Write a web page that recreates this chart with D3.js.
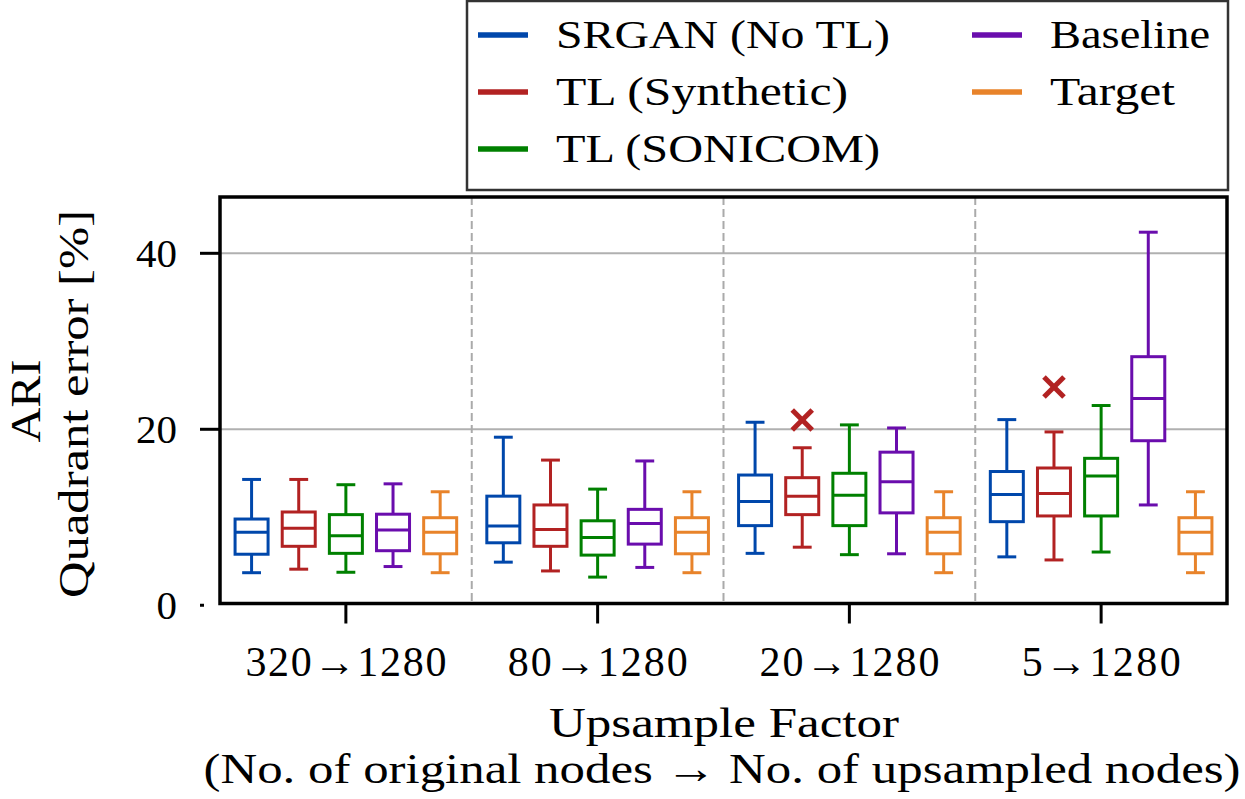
<!DOCTYPE html>
<html>
<head>
<meta charset="utf-8">
<script src="https://cdn.jsdelivr.net/npm/d3@7/dist/d3.min.js"></script>
<style>
  html, body { margin: 0; padding: 0; background: #fff; }
  svg { display: block; }
</style>
</head>
<body>
<svg id="chart" width="1245" height="799"></svg>
<script>
// ---- Data ----
const categories = ["320→1280", "80→1280", "20→1280", "5→1280"];
const seriesNames = ["SRGAN (No TL)", "TL (Synthetic)", "TL (SONICOM)", "Baseline", "Target"];
const seriesColors = ["#0047ab", "#b22222", "#008000", "#6a0dad", "#e8832a"];
const yTicks = [0, 20, 40];

// each entry: [lower whisker, Q1, median, Q3, upper whisker] per category
const srgan       = [[3.7, 5.8, 8.3, 9.8, 14.3], [4.9, 7.1, 9.0, 12.4, 19.1], [5.9, 9.05, 11.8, 14.8, 20.8], [5.5, 9.5, 12.6, 15.2, 21.1]];
const tlSynthetic = [[4.1, 6.7, 8.75, 10.6, 14.3], [3.9, 6.7, 8.6, 11.4, 16.5], [6.6, 10.3, 12.4, 14.5, 17.9], [5.15, 10.15, 12.7, 15.6, 19.7]];
const tlSonicom   = [[3.75, 5.9, 7.9, 10.3, 13.7], [3.2, 5.7, 7.7, 9.6, 13.2], [5.75, 9.05, 12.5, 15.0, 20.5], [6.05, 10.15, 14.7, 16.7, 22.7]];
const baseline    = [[4.4, 6.2, 8.55, 10.35, 13.8], [4.3, 6.95, 9.3, 10.9, 16.4], [5.85, 10.5, 14.05, 17.4, 20.15], [11.4, 18.7, 23.5, 28.25, 42.4]];
const target      = [[3.7, 5.85, 8.3, 9.95, 12.9], [3.7, 5.85, 8.3, 9.95, 12.9], [3.7, 5.85, 8.3, 9.95, 12.9], [3.7, 5.85, 8.3, 9.95, 12.9]];
// outliers: [series index, category index, value]
const outliers = [[1, 2, 21.05], [1, 3, 24.8]];

const seriesData = [srgan, tlSynthetic, tlSonicom, baseline, target];

// ---- Layout ----
const FONT = "Liberation Serif";
const svg = d3.select("#chart");
const plot = { left: 220, right: 1227, top: 197, bottom: 603.5 };

const x = d3.scaleBand().domain(categories).range([plot.left, plot.right]).padding(0);
const xInner = d3.scaleBand().domain(d3.range(seriesNames.length))
  .range([-x.bandwidth() / 2 + 8, x.bandwidth() / 2 - 8]).padding(0);
const y = d3.scaleLinear().domain([0.2, 46.4]).range([plot.bottom, plot.top]);

const boxW = xInner.bandwidth() * 0.7;
const capW = xInner.bandwidth() * 0.4;

function txt(sel) { return sel.attr("font-family", FONT).attr("fill", "#000"); }

// grid
const g = svg.append("g");
g.selectAll(".hgrid").data(yTicks.filter(d => d > 0)).join("line")
  .attr("x1", plot.left).attr("x2", plot.right)
  .attr("y1", d => y(d)).attr("y2", d => y(d))
  .attr("stroke", "#b0b0b0").attr("stroke-width", 2);

g.selectAll(".vgrid").data(categories.slice(1)).join("line")
  .attr("x1", d => x(d)).attr("x2", d => x(d))
  .attr("y1", plot.top).attr("y2", plot.bottom)
  .attr("stroke", "#aaaaaa").attr("stroke-width", 2).attr("stroke-dasharray", "8,4");

// boxes
const boxes = [];
seriesData.forEach((arr, si) => arr.forEach((v, ci) => boxes.push({ si, ci, v })));
const cx = d => x(categories[d.ci]) + x.bandwidth() / 2 + xInner(d.si) + xInner.bandwidth() / 2;

const bg = g.selectAll(".box").data(boxes).join("g")
  .attr("stroke", d => seriesColors[d.si]).attr("stroke-width", 3).attr("fill", "none");

bg.append("line").attr("x1", cx).attr("x2", cx).attr("y1", d => y(d.v[0])).attr("y2", d => y(d.v[1]));
bg.append("line").attr("x1", cx).attr("x2", cx).attr("y1", d => y(d.v[3])).attr("y2", d => y(d.v[4]));
bg.append("line").attr("x1", d => cx(d) - capW / 2).attr("x2", d => cx(d) + capW / 2).attr("y1", d => y(d.v[0])).attr("y2", d => y(d.v[0]));
bg.append("line").attr("x1", d => cx(d) - capW / 2).attr("x2", d => cx(d) + capW / 2).attr("y1", d => y(d.v[4])).attr("y2", d => y(d.v[4]));
bg.append("rect").attr("x", d => cx(d) - boxW / 2).attr("width", boxW)
  .attr("y", d => y(d.v[3])).attr("height", d => y(d.v[1]) - y(d.v[3])).attr("fill", "#fff");
bg.append("line").attr("x1", d => cx(d) - boxW / 2).attr("x2", d => cx(d) + boxW / 2).attr("y1", d => y(d.v[2])).attr("y2", d => y(d.v[2]));

// outliers (x markers)
const ms = 10;
const og = g.selectAll(".out").data(outliers).join("g")
  .attr("transform", d => `translate(${cx({ si: d[0], ci: d[1] })},${y(d[2])})`)
  .attr("stroke", d => seriesColors[d[0]]).attr("stroke-width", 5);
og.append("line").attr("x1", -ms).attr("y1", -ms).attr("x2", ms).attr("y2", ms);
og.append("line").attr("x1", -ms).attr("y1", ms).attr("x2", ms).attr("y2", -ms);

// spines
svg.append("rect").attr("x", plot.left).attr("y", plot.top)
  .attr("width", plot.right - plot.left).attr("height", plot.bottom - plot.top)
  .attr("fill", "none").attr("stroke", "#000").attr("stroke-width", 3.5);

// y axis ticks and labels
const yAxis = svg.append("g");
yAxis.selectAll("line").data(yTicks).join("line")
  .attr("x1", 200).attr("x2", d => d === 0 ? 204 : plot.left)
  .attr("y1", d => y(d)).attr("y2", d => y(d))
  .attr("stroke", "#000").attr("stroke-width", 3);
yAxis.selectAll("text").data(yTicks).join("text").call(txt)
  .attr("x", 177).attr("y", d => y(d) + 14)
  .attr("text-anchor", "end").attr("font-size", 41)
  .text(d => d);

// x axis ticks and labels
const xAxis = svg.append("g");
xAxis.selectAll("line").data(categories).join("line")
  .attr("x1", d => x(d) + x.bandwidth() / 2).attr("x2", d => x(d) + x.bandwidth() / 2)
  .attr("y1", plot.bottom).attr("y2", plot.bottom + 20)
  .attr("stroke", "#000").attr("stroke-width", 3);
xAxis.selectAll("text").data(categories).join("text").call(txt)
  .attr("x", d => x(d) + x.bandwidth() / 2).attr("y", 676)
  .attr("text-anchor", "middle").attr("font-size", 42)
  .text(d => d)
  .each(function () {
    const w = this.getComputedTextLength();
    d3.select(this).attr("textLength", w + 12).attr("lengthAdjust", "spacing");
  });

// axis titles
svg.append("text").call(txt).attr("x", 724).attr("y", 737).attr("text-anchor", "middle")
  .attr("font-size", 43).attr("textLength", 350).attr("lengthAdjust", "spacingAndGlyphs")
  .text("Upsample Factor");
svg.append("text").call(txt).attr("x", 722).attr("y", 783).attr("text-anchor", "middle")
  .attr("font-size", 43).attr("textLength", 1037).attr("lengthAdjust", "spacingAndGlyphs")
  .text("(No. of original nodes → No. of upsampled nodes)");

svg.append("text").call(txt).attr("transform", "translate(40,401) rotate(-90)")
  .attr("text-anchor", "middle").attr("font-size", 43)
  .attr("textLength", 83).attr("lengthAdjust", "spacingAndGlyphs")
  .text("ARI");
svg.append("text").call(txt).attr("transform", "translate(88,404) rotate(-90)")
  .attr("text-anchor", "middle").attr("font-size", 43)
  .attr("textLength", 388).attr("lengthAdjust", "spacingAndGlyphs")
  .text("Quadrant error [%]");

// legend
const legendWidths = [334, 292, 324, 160, 125];
const leg = svg.append("g");
leg.append("rect").attr("x", 467).attr("y", 1).attr("width", 761).attr("height", 189)
  .attr("fill", "#fff").attr("stroke", "#333").attr("stroke-width", 2.5);
const legPos = seriesNames.map((n, i) => ({
  name: n, color: seriesColors[i], w: legendWidths[i],
  x: i < 3 ? 478 : 972,
  y: 48 + (i < 3 ? i : i - 3) * 57
}));
const li = leg.selectAll(".li").data(legPos).join("g")
  .attr("transform", d => `translate(${d.x},${d.y})`);
li.append("line").attr("x1", 0).attr("x2", 50).attr("y1", -13).attr("y2", -13)
  .attr("stroke", d => d.color).attr("stroke-width", 5.5);
li.append("text").call(txt).attr("x", 78).attr("y", 0).attr("font-size", 40)
  .attr("textLength", d => d.w).attr("lengthAdjust", "spacingAndGlyphs")
  .text(d => d.name);
</script>
</body>
</html>
